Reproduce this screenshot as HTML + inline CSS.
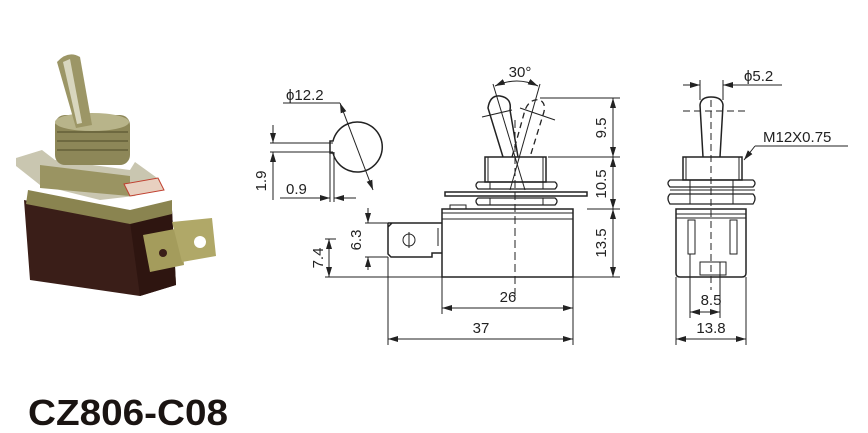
<!DOCTYPE html>
<html><head><meta charset="utf-8"><style>
html,body{margin:0;padding:0;background:#fff;}
svg{display:block;font-family:"Liberation Sans",Arial,sans-serif;}
</style></head><body>
<svg width="868" height="433" viewBox="0 0 868 433" xmlns="http://www.w3.org/2000/svg">
<defs>
<marker id="a" viewBox="0 0 10 6" refX="10" refY="3" markerWidth="10" markerHeight="6" orient="auto-start-reverse" markerUnits="userSpaceOnUse"><path d="M0,0 L10,3 L0,6 Z" fill="#222"/></marker>
</defs>
<!-- photo -->
<g>
<path d="M24,200 L130,222 L172,210 L176,285 L140,296 L30,280 Z" fill="#3a1e18"/>
<path d="M130,222 L172,210 L176,285 L140,296 Z" fill="#2e1510"/>
<path d="M28,190 L130,210 L172,200 L172,214 L130,224 L26,204 Z" fill="#8a8450"/>
<path d="M16,158 L42,150 L55,160 L130,170 L135,162 L160,180 L135,196 L100,200 L40,185 L16,166 Z" fill="#c9c6b0"/>
<path d="M40,165 L130,176 L130,196 L40,188 Z" fill="#9a9462"/>
<rect x="55" y="115" width="75" height="50" rx="10" fill="#8d8758"/>
<ellipse cx="92" cy="122" rx="37" ry="9" fill="#b8b48a"/>
<line x1="57" y1="132" x2="128" y2="132" stroke="#6e6940" stroke-width="2"/>
<line x1="57" y1="141" x2="128" y2="141" stroke="#6e6940" stroke-width="2"/>
<line x1="57" y1="150" x2="128" y2="150" stroke="#6e6940" stroke-width="2"/>
<path d="M57,62 Q68,50 80,57 L92,125 L76,128 Z" fill="#9c9666"/>
<path d="M63,62 L70,59 L82,123 L77,124 Z" fill="#d8d6be"/>
<path d="M143,235 L180,228 L184,265 L150,272 Z" fill="#a49c5c"/>
<path d="M172,222 L212,218 L216,256 L182,262 Z" fill="#b0a868"/>
<circle cx="200" cy="242" r="6" fill="#fff"/>
<circle cx="163" cy="253" r="4" fill="#3a1e18"/>
<path d="M124,184 L158,178 L164,190 L130,196 Z" fill="#e8d0c0" stroke="#c04030" stroke-width="1"/>
</g>
<g fill="none" stroke="#222" stroke-width="1">
<path d="M333,141 A25,25 0 1 1 333,153 L330,153 L330,141 Z" stroke-width="1.5"/>
<line x1="283" y1="103" x2="340" y2="103"/>
<line x1="340" y1="103" x2="373" y2="190" marker-end="url(#a)" marker-start="url(#a)"/>
<line x1="270" y1="143" x2="333" y2="143"/>
<line x1="270" y1="152" x2="333" y2="152"/>
<line x1="273" y1="125" x2="273" y2="143" marker-end="url(#a)"/>
<line x1="273" y1="200" x2="273" y2="152" marker-end="url(#a)"/>
<line x1="330" y1="152" x2="330" y2="202"/>
<line x1="334" y1="152" x2="334" y2="202"/>
<line x1="280" y1="198" x2="330" y2="198"/>
<line x1="310" y1="198" x2="330" y2="198" marker-end="url(#a)"/>
<line x1="356" y1="198" x2="334" y2="198" marker-end="url(#a)"/>
<rect x="442" y="209" width="131" height="68" stroke-width="1.5"/>
<line x1="442" y1="213" x2="573" y2="213"/>
<line x1="442" y1="219" x2="573" y2="219"/>
<rect x="450" y="205" width="16" height="4"/>
<rect x="445" y="192" width="142" height="4" stroke-width="1.5"/>
<path d="M478,189 Q474,185 478,182 L555,182 Q559,185 555,189 Z" stroke-width="1.3"/>
<path d="M478,205 Q474,201 478,198 L555,198 Q559,201 555,205 Z" stroke-width="1.3"/>
<line x1="490" y1="182" x2="490" y2="189"/><line x1="543" y1="182" x2="543" y2="189"/>
<line x1="490" y1="198" x2="490" y2="205"/><line x1="543" y1="198" x2="543" y2="205"/>
<rect x="485" y="157" width="61" height="25" stroke-width="1.5"/>
<line x1="488" y1="157" x2="488" y2="182"/><line x1="543" y1="157" x2="543" y2="182"/>
<path d="M503,157 L488,108 Q490,95 500,96 Q512,98 510,110 L518,157" stroke-width="1.5"/>
<path d="M512,157 L525,110 Q530,98 540,100 Q547,104 543,115 L530,157" stroke-dasharray="6,4" stroke-width="1.3"/>
<line x1="493" y1="84" x2="525" y2="190"/>
<line x1="540" y1="84" x2="510" y2="190"/>
<path d="M495,86 Q517,76 538,86" marker-end="url(#a)" marker-start="url(#a)"/>
<line x1="482" y1="117" x2="512" y2="110"/>
<line x1="520" y1="108" x2="555" y2="120"/>
<line x1="515" y1="120" x2="515" y2="300" stroke-dasharray="8,4"/>
<path d="M388,223 L442,223 M388,223 L388,254 L391,257 L432,257 L432,253 L442,253 M392,223 L388,227" stroke-width="1.5"/>
<line x1="438" y1="228" x2="438" y2="246"/>
<circle cx="409" cy="240" r="6"/>
<line x1="409" y1="232" x2="409" y2="248"/>
<line x1="540" y1="98" x2="620" y2="98"/>
<line x1="548" y1="157" x2="620" y2="157"/>
<line x1="587" y1="209" x2="620" y2="209"/>
<line x1="325" y1="277" x2="620" y2="277"/>
<line x1="613" y1="98" x2="613" y2="157" marker-start="url(#a)" marker-end="url(#a)"/>
<line x1="613" y1="157" x2="613" y2="209" marker-start="url(#a)" marker-end="url(#a)"/>
<line x1="613" y1="209" x2="613" y2="277" marker-start="url(#a)" marker-end="url(#a)"/>
<line x1="365" y1="223" x2="388" y2="223"/>
<line x1="365" y1="257" x2="388" y2="257"/>
<line x1="368" y1="208" x2="368" y2="223" marker-end="url(#a)"/>
<line x1="368" y1="270" x2="368" y2="257" marker-end="url(#a)"/>
<line x1="325" y1="239" x2="336" y2="239"/>
<line x1="329" y1="239" x2="329" y2="277" marker-start="url(#a)" marker-end="url(#a)"/>
<line x1="388" y1="257" x2="388" y2="345"/>
<line x1="442" y1="277" x2="442" y2="314"/>
<line x1="573" y1="277" x2="573" y2="345"/>
<line x1="442" y1="308" x2="573" y2="308" marker-start="url(#a)" marker-end="url(#a)"/>
<line x1="388" y1="339" x2="573" y2="339" marker-start="url(#a)" marker-end="url(#a)"/>
<path d="M703,157 L700,105 Q701,97 711,97 Q722,97 723,105 L720,157" stroke-width="1.5"/>
<rect x="683" y="157" width="59" height="23" stroke-width="1.5"/>
<line x1="686" y1="157" x2="686" y2="180"/><line x1="739" y1="157" x2="739" y2="180"/>
<path d="M670,187 Q666,183 670,180 L753,180 Q757,183 753,187 Z" stroke-width="1.3"/>
<path d="M670,204 Q666,198 670,194 L753,194 Q757,198 753,204 Z" stroke-width="1.3"/>
<line x1="670" y1="190" x2="755" y2="190"/>
<line x1="690" y1="180" x2="690" y2="204"/><line x1="733" y1="180" x2="733" y2="204"/>
<path d="M676,209 L746,209 L746,273 Q746,277 742,277 L680,277 Q676,277 676,273 Z" stroke-width="1.5"/>
<line x1="676" y1="214" x2="746" y2="214"/>
<line x1="676" y1="218" x2="746" y2="218"/>
<rect x="688" y="220" width="7" height="34"/>
<rect x="730" y="220" width="7" height="34"/>
<rect x="700" y="262" width="26" height="13"/>
<line x1="711" y1="100" x2="711" y2="290" stroke-dasharray="7,4"/>
<line x1="683" y1="111" x2="745" y2="111" stroke-dasharray="7,4"/>
<line x1="700" y1="80" x2="700" y2="100"/><line x1="723" y1="80" x2="723" y2="100"/>
<line x1="683" y1="85" x2="700" y2="85" marker-end="url(#a)"/>
<line x1="745" y1="85" x2="723" y2="85" marker-end="url(#a)"/>
<line x1="723" y1="85" x2="782" y2="85"/>
<line x1="755" y1="146" x2="848" y2="146"/>
<line x1="755" y1="146" x2="744" y2="160" marker-end="url(#a)"/>
<line x1="690" y1="254" x2="690" y2="318"/>
<line x1="720" y1="262" x2="720" y2="318"/>
<line x1="676" y1="277" x2="676" y2="345"/>
<line x1="746" y1="277" x2="746" y2="345"/>
<line x1="690" y1="312" x2="720" y2="312" marker-start="url(#a)" marker-end="url(#a)"/>
<line x1="676" y1="339" x2="746" y2="339" marker-start="url(#a)" marker-end="url(#a)"/>
</g>
<g fill="#222" font-size="15">
<text x="286" y="100">ϕ12.2</text>
<text x="286" y="194">0.9</text>
<text transform="translate(266,181) rotate(-90)" text-anchor="middle">1.9</text>
<text x="520" y="77" text-anchor="middle">30°</text>
<text transform="translate(606,128) rotate(-90)" text-anchor="middle">9.5</text>
<text transform="translate(606,184) rotate(-90)" text-anchor="middle">10.5</text>
<text transform="translate(606,243) rotate(-90)" text-anchor="middle">13.5</text>
<text transform="translate(361,240) rotate(-90)" text-anchor="middle">6.3</text>
<text transform="translate(323,258) rotate(-90)" text-anchor="middle">7.4</text>
<text x="508" y="302" text-anchor="middle">26</text>
<text x="481" y="333" text-anchor="middle">37</text>
<text x="744" y="81">ϕ5.2</text>
<text x="763" y="142">M12X0.75</text>
<text x="711" y="305" text-anchor="middle">8.5</text>
<text x="711" y="333" text-anchor="middle">13.8</text>
<text x="28" y="425" font-size="36" font-weight="bold" fill="#1a1412" textLength="200" lengthAdjust="spacingAndGlyphs">CZ806-C08</text>
</g>
</svg>
</body></html>
